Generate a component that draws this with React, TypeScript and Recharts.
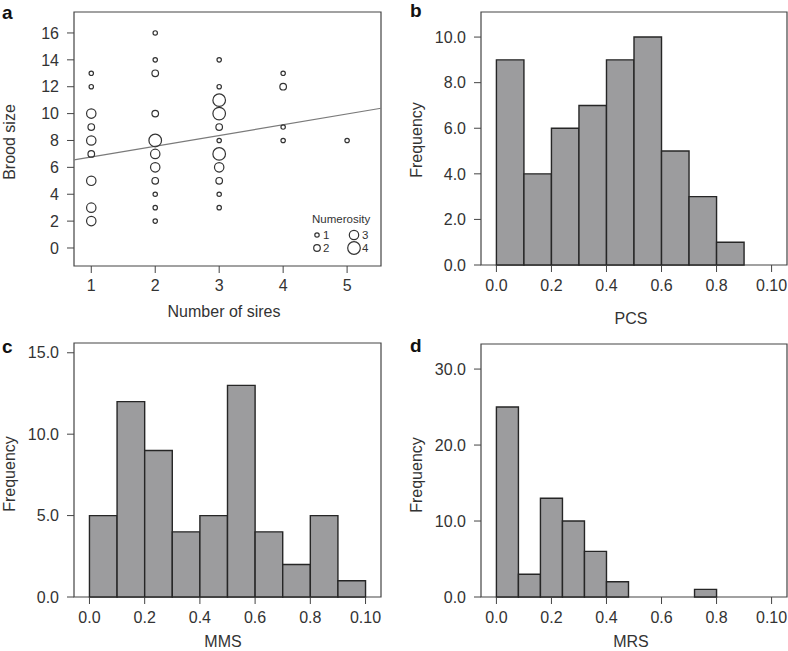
import React from 'react';
import {
  ScatterChart,
  ComposedChart,
  Scatter,
  XAxis,
  YAxis,
  ReferenceArea,
  ReferenceLine,
  Legend,
  Customized,
} from 'recharts';

const FONT = '"Liberation Sans", Arial, Helvetica, sans-serif';
const INK = '#333';
const FRAME = '#444';
const BAR_FILL = '#9c9c9e';
const BAR_EDGE = '#262626';

// panel a: number of sires vs brood size, circle size = numerosity
const siresX = [
  1, 1, 1, 1, 1, 1, 1, 1, 1,
  2, 2, 2, 2, 2, 2, 2, 2, 2, 2, 2,
  3, 3, 3, 3, 3, 3, 3, 3, 3, 3, 3,
  4, 4, 4, 4,
  5,
];
const broodY = [
  13, 12, 10, 9, 8, 7, 5, 3, 2,
  16, 14, 13, 10, 8, 7, 6, 5, 4, 3, 2,
  14, 12, 11, 10, 9, 8, 7, 6, 5, 4, 3,
  13, 12, 9, 8,
  8,
];
const numerosity = [
  1, 1, 3, 2, 3, 2, 3, 3, 3,
  1, 1, 2, 2, 4, 3, 3, 2, 1, 1, 1,
  1, 1, 4, 4, 2, 1, 4, 3, 2, 1, 1,
  1, 2, 1, 1,
  1,
];
const fitX = [0.73, 5.53];
const fitY = [6.55, 10.4];
const siresTicks = [1, 2, 3, 4, 5];
const broodTicks = [0, 2, 4, 6, 8, 10, 12, 14, 16];
const legendLevels = [1, 2, 3, 4];

// histograms
const binEdgesTenth = [0, 0.1, 0.2, 0.3, 0.4, 0.5, 0.6, 0.7, 0.8, 0.9, 1.0];
const pcsCounts = [9, 4, 6, 7, 9, 10, 5, 3, 1, 0];
const mmsCounts = [5, 12, 9, 4, 5, 13, 4, 2, 5, 1];
const mrsEdges = [0, 0.08, 0.16, 0.24, 0.32, 0.4, 0.48, 0.56, 0.64, 0.72, 0.8];
const mrsCounts = [25, 3, 13, 10, 6, 2, 0, 0, 0, 1];

const histTicks = [0, 0.2, 0.4, 0.6, 0.8, 1.0];
const histTickLabels = ['0.0', '0.2', '0.4', '0.6', '0.8', '0.10'];
const pcsYTicks = [0, 2, 4, 6, 8, 10];
const mmsYTicks = [0, 5, 10, 15];
const mrsYTicks = [0, 10, 20, 30];

const radius: Record<number, number> = { 1: 2.2, 2: 3.3, 3: 4.7, 4: 6.3 };

const tickStyle = { fill: INK, fontSize: 16, fontFamily: FONT };

const scatterData = siresX.map((x, i) => ({ x, y: broodY[i], n: numerosity[i] }));

const Ring = (props: any) => {
  const { cx, cy, payload } = props;
  if (cx == null || cy == null) return <g />;
  return (
    <circle cx={cx} cy={cy} r={radius[payload.n]} fill="none" stroke={INK} strokeWidth={1.2} />
  );
};

const NumerosityLegend = () => (
  <svg width={80} height={56} style={{ fontFamily: FONT }}>
    <text x={7} y={17} fontSize={11.5} fill={INK}>Numerosity</text>
    {legendLevels.map((n, i) => {
      const col = i < 2 ? 0 : 1;
      const row = i % 2;
      const cx = col === 0 ? 12 : 49;
      const cy = row === 0 ? 29 : 42;
      return (
        <g key={n}>
          <circle cx={cx} cy={cy} r={radius[n]} fill="none" stroke={INK} strokeWidth={1.2} />
          <text x={cx + (col === 0 ? 6 : 8)} y={cy + 4} fontSize={11.5} fill={INK}>{n}</text>
        </g>
      );
    })}
  </svg>
);

type TextSpec = { text: string; x: number; y: number; rotate?: boolean; bold?: boolean; size?: number; anchor?: string };

const Labels = ({ items }: { items: TextSpec[] }) => (
  <g>
    {items.map((t) => (
      <text
        key={t.text + t.x}
        transform={`translate(${t.x},${t.y})${t.rotate ? ' rotate(-90)' : ''}`}
        textAnchor={t.anchor || 'middle'}
        fontSize={t.size || 16}
        fontWeight={t.bold ? 'bold' : 'normal'}
        fontFamily={FONT}
        fill={t.bold ? '#111' : INK}
      >
        {t.text}
      </text>
    ))}
  </g>
);

const PanelA = () => {
  const xDom: [number, number] = [0.73, 5.53];
  const yDom: [number, number] = [-1.34, 17.56];
  return (
    <ScatterChart width={394} height={320} margin={{ top: 12, right: 13, bottom: 24, left: 14 }}>
      <XAxis
        type="number"
        dataKey="x"
        domain={xDom}
        ticks={siresTicks}
        allowDataOverflow
        axisLine={false}
        tickLine={{ stroke: FRAME }}
        tickSize={7}
        tickMargin={7}
        tick={tickStyle}
        height={30}
      />
      <YAxis
        type="number"
        dataKey="y"
        domain={yDom}
        ticks={broodTicks}
        allowDataOverflow
        axisLine={false}
        tickLine={{ stroke: FRAME }}
        tickSize={7}
        tickMargin={8}
        tick={tickStyle}
        width={60}
      />
      <ReferenceArea x1={xDom[0]} x2={xDom[1]} y1={yDom[0]} y2={yDom[1]} fill="none" stroke={FRAME} strokeWidth={1.2} ifOverflow="visible" />
      <ReferenceLine
        segment={[{ x: fitX[0], y: fitY[0] }, { x: fitX[1], y: fitY[1] }]}
        stroke="#7a7a7a"
        strokeWidth={1.2}
        ifOverflow="visible"
      />
      <Scatter data={scatterData} shape={Ring} isAnimationActive={false} />
      <Legend
        layout="horizontal"
        verticalAlign="middle"
        align="center"
        content={NumerosityLegend}
        wrapperStyle={{ left: 305, top: 206, width: 80, height: 56 }}
      />
      <Customized
        component={() => (
          <Labels
            items={[
              { text: 'a', x: 2, y: 19, bold: true, size: 19, anchor: 'start' },
              { text: 'Brood size', x: 15, y: 142, rotate: true },
              { text: 'Number of sires', x: 224, y: 317 },
            ]}
          />
        )}
      />
    </ScatterChart>
  );
};

type HistProps = {
  edges: number[];
  counts: number[];
  yDomain: [number, number];
  yTicks: number[];
  height: number;
  margin: { top: number; right: number; bottom: number; left: number };
  labels: TextSpec[];
};

const Histogram = ({ edges, counts, yDomain, yTicks, height, margin, labels }: HistProps) => {
  const xDom: [number, number] = [-0.056, 1.056];
  const bins = counts.map((c, i) => ({ x0: edges[i], x1: edges[i + 1], x: (edges[i] + edges[i + 1]) / 2, y: c }));
  return (
    <ComposedChart width={394} height={height} margin={margin} data={bins}>
      <XAxis
        type="number"
        dataKey="x"
        domain={xDom}
        ticks={histTicks}
        tickFormatter={(v: number) => histTickLabels[histTicks.indexOf(v)] ?? String(v)}
        allowDataOverflow
        axisLine={false}
        tickLine={{ stroke: FRAME }}
        tickSize={7}
        tickMargin={8}
        tick={tickStyle}
        height={30}
      />
      <YAxis
        type="number"
        domain={yDomain}
        ticks={yTicks}
        tickFormatter={(v: number) => v.toFixed(1)}
        allowDataOverflow
        axisLine={false}
        tickLine={{ stroke: FRAME }}
        tickSize={7}
        tickMargin={8}
        tick={tickStyle}
        width={60}
      />
      <ReferenceArea x1={xDom[0]} x2={xDom[1]} y1={yDomain[0]} y2={yDomain[1]} fill="none" stroke={FRAME} strokeWidth={1.2} ifOverflow="visible" />
      {bins
        .filter((b) => b.y > 0)
        .map((b) => (
          <ReferenceArea
            key={b.x0}
            x1={b.x0}
            x2={b.x1}
            y1={0}
            y2={b.y}
            fill={BAR_FILL}
            fillOpacity={1}
            stroke={BAR_EDGE}
            strokeWidth={1.4}
            ifOverflow="visible"
          />
        ))}
      <Scatter dataKey="y" shape={() => <g />} isAnimationActive={false} />
      <Customized component={() => <Labels items={labels} />} />
    </ComposedChart>
  );
};

export default function App() {
  return (
    <div style={{ position: 'absolute', left: 0, top: 0, width: 788, height: 651, background: '#fff' }}>
      <div style={{ position: 'absolute', left: 0, top: 0 }}>
        <PanelA />
      </div>
      <div style={{ position: 'absolute', left: 394, top: 0 }}>
        <Histogram
          edges={binEdgesTenth}
          counts={pcsCounts}
          yDomain={[0, 11.1]}
          yTicks={pcsYTicks}
          height={330}
          margin={{ top: 12, right: 1, bottom: 35, left: 27 }}
          labels={[
            { text: 'b', x: 16, y: 17, bold: true, size: 19, anchor: 'start' },
            { text: 'Frequency', x: 28, y: 140, rotate: true },
            { text: 'PCS', x: 237, y: 324 },
          ]}
        />
      </div>
      <div style={{ position: 'absolute', left: 0, top: 320 }}>
        <Histogram
          edges={binEdgesTenth}
          counts={mmsCounts}
          yDomain={[0, 15.6]}
          yTicks={mmsYTicks}
          height={331}
          margin={{ top: 23, right: 13, bottom: 24, left: 14 }}
          labels={[
            { text: 'c', x: 2, y: 33, bold: true, size: 19, anchor: 'start' },
            { text: 'Frequency', x: 15, y: 154, rotate: true },
            { text: 'MMS', x: 223, y: 327 },
          ]}
        />
      </div>
      <div style={{ position: 'absolute', left: 394, top: 320 }}>
        <Histogram
          edges={mrsEdges}
          counts={mrsCounts}
          yDomain={[0, 33.3]}
          yTicks={mrsYTicks}
          height={331}
          margin={{ top: 24, right: 1, bottom: 24, left: 27 }}
          labels={[
            { text: 'd', x: 16, y: 32, bold: true, size: 19, anchor: 'start' },
            { text: 'Frequency', x: 28, y: 155, rotate: true },
            { text: 'MRS', x: 237, y: 327 },
          ]}
        />
      </div>
    </div>
  );
}
